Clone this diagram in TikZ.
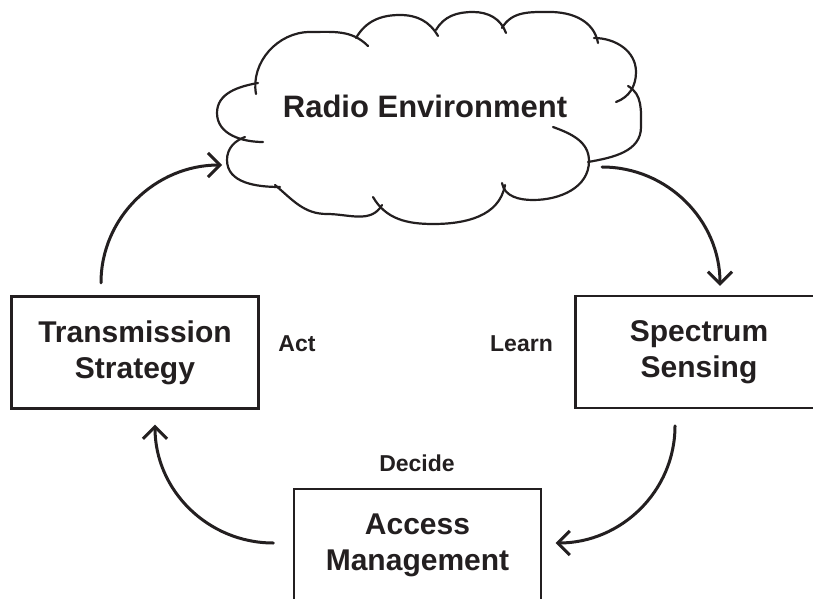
\documentclass[tikz,border=0pt]{standalone}
\usepackage{fontspec}
\setmainfont{Liberation Sans}
\usetikzlibrary{arrows.meta}
\definecolor{ink}{HTML}{231F20}
\begin{document}
\begin{tikzpicture}[x=1pt, y=1pt, block/.style={rectangle, draw=ink, line width=2.3pt, minimum width=247pt, minimum height=112pt, inner sep=0pt, align=center, text=ink, font={\bfseries\fontsize{30}{36}\selectfont}}, tag/.style={text=ink, font={\bfseries\fontsize{23}{27}\selectfont}}, puff/.style={draw=ink, line width=2.2pt, line cap=round}, flow/.style={draw=ink, line width=3pt, line cap=round, -{Straight Barb[length=12pt, width=24pt]}}]
  \useasboundingbox (0,0) rectangle (813,598);

  \node[text=ink, font={\bfseries\fontsize{31}{36}\selectfont}] (env) at (425,492) {Radio Environment};
  \node[block] (trans) at (135,245.5) {Transmission\\Strategy};
  \node[block] (sense) at (699,246.25) {Spectrum\\Sensing};
  \node[block] (access) at (417.5,53) {Access\\Management};

  \node[tag] (act) at (297,254) {Act};
  \node[tag] (learn) at (521.5,254) {Learn};
  \node[tag] (decide) at (417,135) {Decide};

  % cloud puffs
  \draw[puff] (263,456) to[out=180,in=-90] (217,485) to[out=90,in=190] (258,515);
  \draw[puff] (256,504) to[out=100,in=180] (310,566) to[out=0,in=135] (368,552);
  \draw[puff] (356,560) to[out=60,in=180] (400,583) to[out=0,in=120] (438,562);
  \draw[puff] (436,568) to[out=60,in=180] (473,586) to[out=0,in=110] (506,565);
  \draw[puff] (502,570) to[out=60,in=180] (550,586) to[out=0,in=100] (598,555);
  \draw[puff] (594,560) to[out=0,in=90] (636,526) to[out=-90,in=20] (616,496);
  \draw[puff] (628,512) to[out=-30,in=90] (641,471) to[out=-90,in=10] (588,436);
  \draw[puff] (553,471) to[out=-20,in=90] (589,437) to[out=-90,in=0] (533,398) to[out=180,in=-80] (502,415);
  \draw[puff] (505,413) to[out=-100,in=0] (433,374) to[out=180,in=-60] (373,401);
  \draw[puff] (382,393) to[out=-120,in=0] (327,384) to[out=180,in=-40] (275,413);
  \draw[puff] (280,411) to[out=180,in=-90] (227,438) to[out=90,in=200] (245,461);

  % cycle
  \draw[flow] ([shift={(-34,12.5)}]trans.north) to[out=90,in=180] ([shift={(-203,-59)}]env.center);
  \draw[flow] ([shift={(177,-61)}]env.center) to[out=0,in=90] ([shift={(21,8.75)}]sense.north);
  \draw[flow] ([shift={(-24,-17)}]sense.south) to[out=-90,in=0] ([shift={(13.5,2)}]access.east);
  \draw[flow] ([shift={(-19.5,2)}]access.west) to[out=180,in=-90] ([shift={(20,-15)}]trans.south);

\end{tikzpicture}
\end{document}
